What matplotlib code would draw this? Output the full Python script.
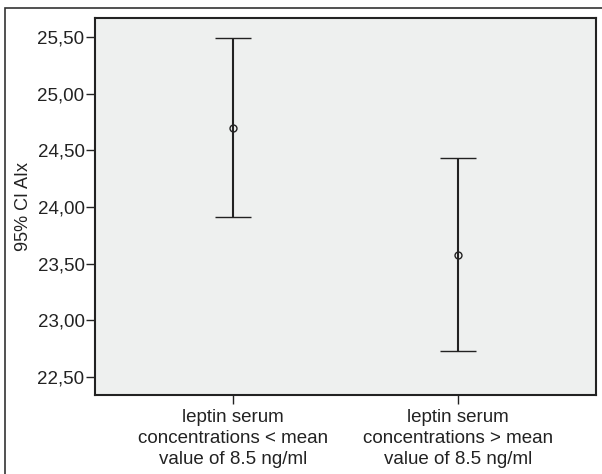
import numpy as np
import matplotlib.pyplot as plt
from matplotlib.patches import Rectangle

plt.rcParams['font.family'] = ['Liberation Sans', 'DejaVu Sans']

groups = ['leptin serum\nconcentrations < mean\nvalue of 8.5 ng/ml',
          'leptin serum\nconcentrations > mean\nvalue of 8.5 ng/ml']
means = [24.70, 23.58]
lower = [23.91, 22.73]
upper = [25.49, 24.43]
yticks = [22.5, 23.0, 23.5, 24.0, 24.5, 25.0, 25.5]

fig = plt.figure(figsize=(6.02, 4.74), dpi=100)
ax = fig.add_axes([95 / 602, 1 - 395 / 474, 501 / 602, 377 / 474])
ax.set_facecolor('#eef0ef')

x = np.arange(1, len(groups) + 1)
m = np.array(means)
err = [m - np.array(lower), np.array(upper) - m]
ax.errorbar(x, m, yerr=err, fmt='o', mfc='none', mec='#222222', ms=5, mew=1.0,
            ecolor='#222222', elinewidth=1.5, capsize=13, capthick=1.8)

ax.set_xlim(0.39, 2.61)
ax.set_ylim(22.34, 25.67)
ax.set_yticks(yticks)
ax.set_yticklabels([f'{v:.2f}'.replace('.', ',') for v in yticks])
ax.set_xticks(x)
ax.set_xticklabels(groups, linespacing=1.3)
ax.tick_params(labelsize=13.5, length=6.5, width=1, color='#222222', labelcolor='#222222')
ax.tick_params(axis='y', pad=1)
ax.set_ylabel('95% CI AIx', fontsize=13, color='#222222', labelpad=4)
for s in ax.spines.values():
    s.set_linewidth(1.5)
    s.set_color('#222222')

# outer frame
fig.patches.append(Rectangle((5 / 602, -0.01), 1.0, 1 - 8 / 474 + 0.01,
                             transform=fig.transFigure, fill=False,
                             edgecolor='#333333', linewidth=1.2))

fig.savefig('out.png', dpi=100)
